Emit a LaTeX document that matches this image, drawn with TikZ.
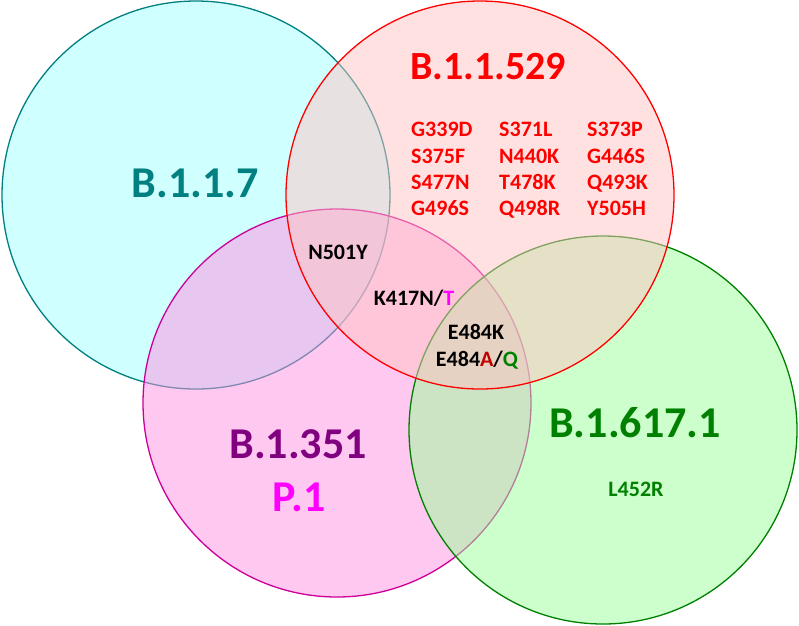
\documentclass[tikz,border=0pt]{standalone}
\usepackage{fontspec}
\setmainfont{Carlito}
\definecolor{cyfill}{RGB}{161,255,255}
\definecolor{cyline}{RGB}{0,128,128}
\definecolor{rdfill}{RGB}{255,195,195}
\definecolor{rdline}{RGB}{255,0,0}
\definecolor{mgfill}{RGB}{255,145,225}
\definecolor{mgline}{RGB}{204,0,153}
\definecolor{grfill}{RGB}{153,255,153}
\definecolor{grline}{RGB}{0,128,0}
\definecolor{purp}{RGB}{128,0,128}
\definecolor{magt}{RGB}{255,0,255}
\definecolor{dred}{RGB}{192,0,0}
\tikzset{
  setcircle/.style={line width=1.3pt, fill opacity=0.5, draw opacity=1},
  biglabel/.style={font=\fontsize{40}{48}\selectfont\bfseries, anchor=base, inner sep=0pt},
  hugelabel/.style={font=\fontsize{44}{52}\selectfont\bfseries, anchor=base, inner sep=0pt},
  mutlabel/.style={font=\fontsize{22}{26}\selectfont\bfseries, anchor=base, inner sep=0pt},
  mutcol/.style={mutlabel, anchor=base west, text=rdline}
}
\begin{document}
\begin{tikzpicture}[x=1pt,y=-1pt]
\useasboundingbox (0,0) rectangle (799,625);
% circles: order cyan, magenta, green, red
\draw[setcircle, draw=cyline, fill=cyfill] (196,195) circle[radius=194pt];
\draw[setcircle, draw=mgline, fill=mgfill] (337,403) circle[radius=194pt];
\draw[setcircle, draw=grline, fill=grfill] (603,430) circle[radius=194pt];
\draw[setcircle, draw=rdline, fill=rdfill] (480,195) circle[radius=194pt];
% set names
\node[hugelabel, text=cyline] (b117) at (195,197) {B.1.1.7};
\node[biglabel, text=rdline] (b11529) at (488,79) {B.1.1.529};
\node[hugelabel, text=purp] (b1351) at (298,458) {B.1.351};
\node[hugelabel, text=magt] (p1) at (299,511) {P.1};
\node[hugelabel, text=grline] (b16171) at (635,437) {B.1.617.1};
% omicron mutations
\node[mutcol] (m11) at (411,136) {G339D};
\node[mutcol] (m12) at (499,136) {S371L};
\node[mutcol] (m13) at (587,136) {S373P};
\node[mutcol] (m21) at (411,163) {S375F};
\node[mutcol] (m22) at (499,163) {N440K};
\node[mutcol] (m23) at (587,163) {G446S};
\node[mutcol] (m31) at (411,189) {S477N};
\node[mutcol] (m32) at (499,189) {T478K};
\node[mutcol] (m33) at (587,189) {Q493K};
\node[mutcol] (m41) at (411,215) {G496S};
\node[mutcol] (m42) at (499,215) {Q498R};
\node[mutcol] (m43) at (587,215) {Y505H};
% shared mutations
\node[mutlabel] (n501y) at (338,259) {N501Y};
\node[mutlabel] (k417) at (414,305) {K417N/\textcolor{magt}{T}};
\node[mutlabel] (e484k) at (476,339) {E484K};
\node[mutlabel] (e484aq) at (477,366) {E484\textcolor{dred}{A}/\textcolor{grline}{Q}};
\node[mutlabel, text=grline] (l452r) at (636,496) {L452R};
\end{tikzpicture}
\end{document}
